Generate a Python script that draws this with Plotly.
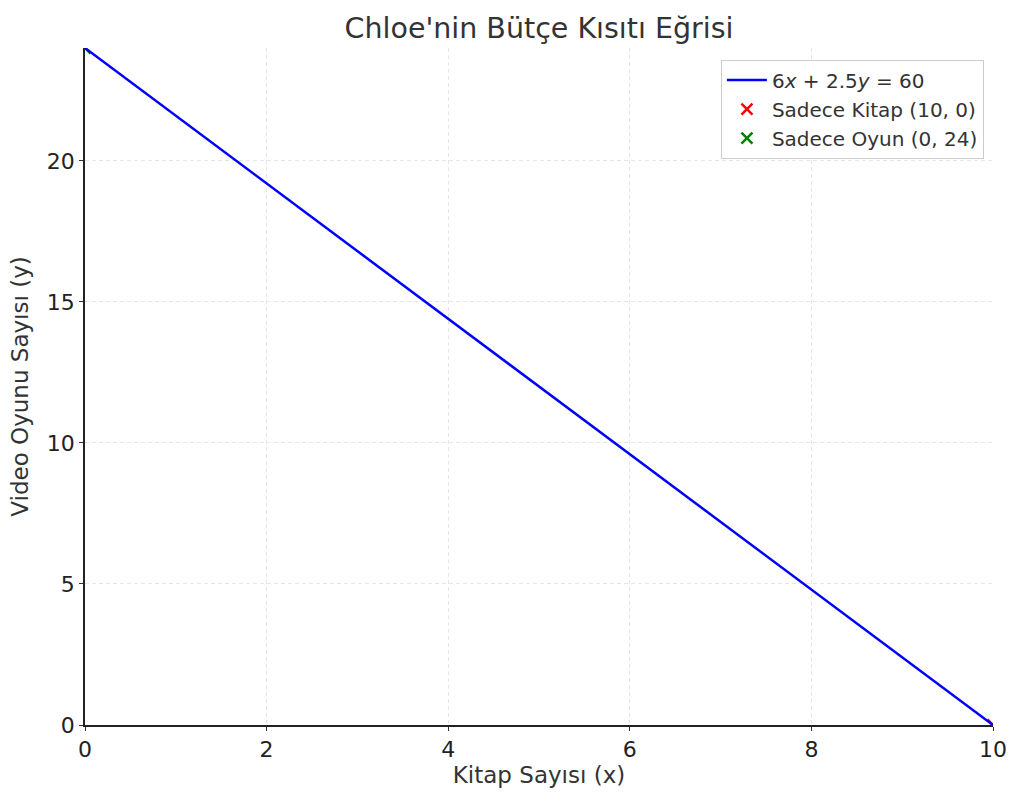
import plotly.graph_objects as go

line_x = [0, 10]
line_y = [24, 0]
book_x, book_y = [10], [0]
game_x, game_y = [0], [24]
x_ticks = [0, 2, 4, 6, 8, 10]
y_ticks = [0, 5, 10, 15, 20]

FONT = "DejaVu Sans"
fig = go.Figure()
fig.add_trace(go.Scatter(x=book_x, y=book_y, mode="markers", name="Sadece Kitap (10, 0)",
                         marker=dict(symbol="x-thin-open", size=11, color="red", line=dict(width=2.5, color="red")),
                         cliponaxis=True, legendrank=2))
fig.add_trace(go.Scatter(x=game_x, y=game_y, mode="markers", name="Sadece Oyun (0, 24)",
                         marker=dict(symbol="x-thin-open", size=11, color="green", line=dict(width=2.5, color="green")),
                         cliponaxis=True, legendrank=3))
fig.add_trace(go.Scatter(x=line_x, y=line_y, mode="lines", name="6<i>x</i> + 2.5<i>y</i> = 60",
                         line=dict(color="blue", width=2.5), cliponaxis=True, legendrank=1))

fig.update_layout(
    width=1024, height=804,
    margin=dict(l=85, r=31, t=48, b=79),
    paper_bgcolor="white", plot_bgcolor="white",
    font=dict(family=FONT, color="#333333"),
    title=dict(text="Chloe'nin Bütçe Kısıtı Eğrisi", xref="paper", x=0.5, xanchor="center",
               y=1 - 28 / 804, yanchor="middle",
               font=dict(size=28.5, color="#333333")),
    legend=dict(x=0.990, y=0.983, xanchor="right", yanchor="top", bgcolor="rgba(255,255,255,0.9)",
                bordercolor="#cccccc", borderwidth=1, font=dict(size=20, color="#333333"),
                itemwidth=40, tracegroupgap=6),
    showlegend=True,
)
fig.update_xaxes(range=[0, 10], tickvals=x_ticks, showline=True, linecolor="#222222", linewidth=1.5,
                 showgrid=True, gridcolor="#e6e6e6", griddash="4px,3px", zeroline=False,
                 ticks="outside", ticklen=4, tickcolor="#333333", tickwidth=1,
                 tickfont=dict(size=22, color="#222222"),
                 title=dict(text="Kitap Sayısı (x)", font=dict(size=23, color="#333333"), standoff=4))
fig.update_yaxes(range=[0, 24], tickvals=y_ticks, showline=True, linecolor="#222222", linewidth=1.5,
                 showgrid=True, gridcolor="#e6e6e6", griddash="4px,3px", zeroline=False,
                 ticks="outside", ticklen=4, tickcolor="#333333", tickwidth=1,
                 tickfont=dict(size=22, color="#222222"),
                 title=dict(text="Video Oyunu Sayısı (y)", font=dict(size=23, color="#333333"), standoff=12))
fig.write_html("out.html", config={"displayModeBar": False},
               post_script="document.body.style.margin='0';document.body.style.padding='0';")
